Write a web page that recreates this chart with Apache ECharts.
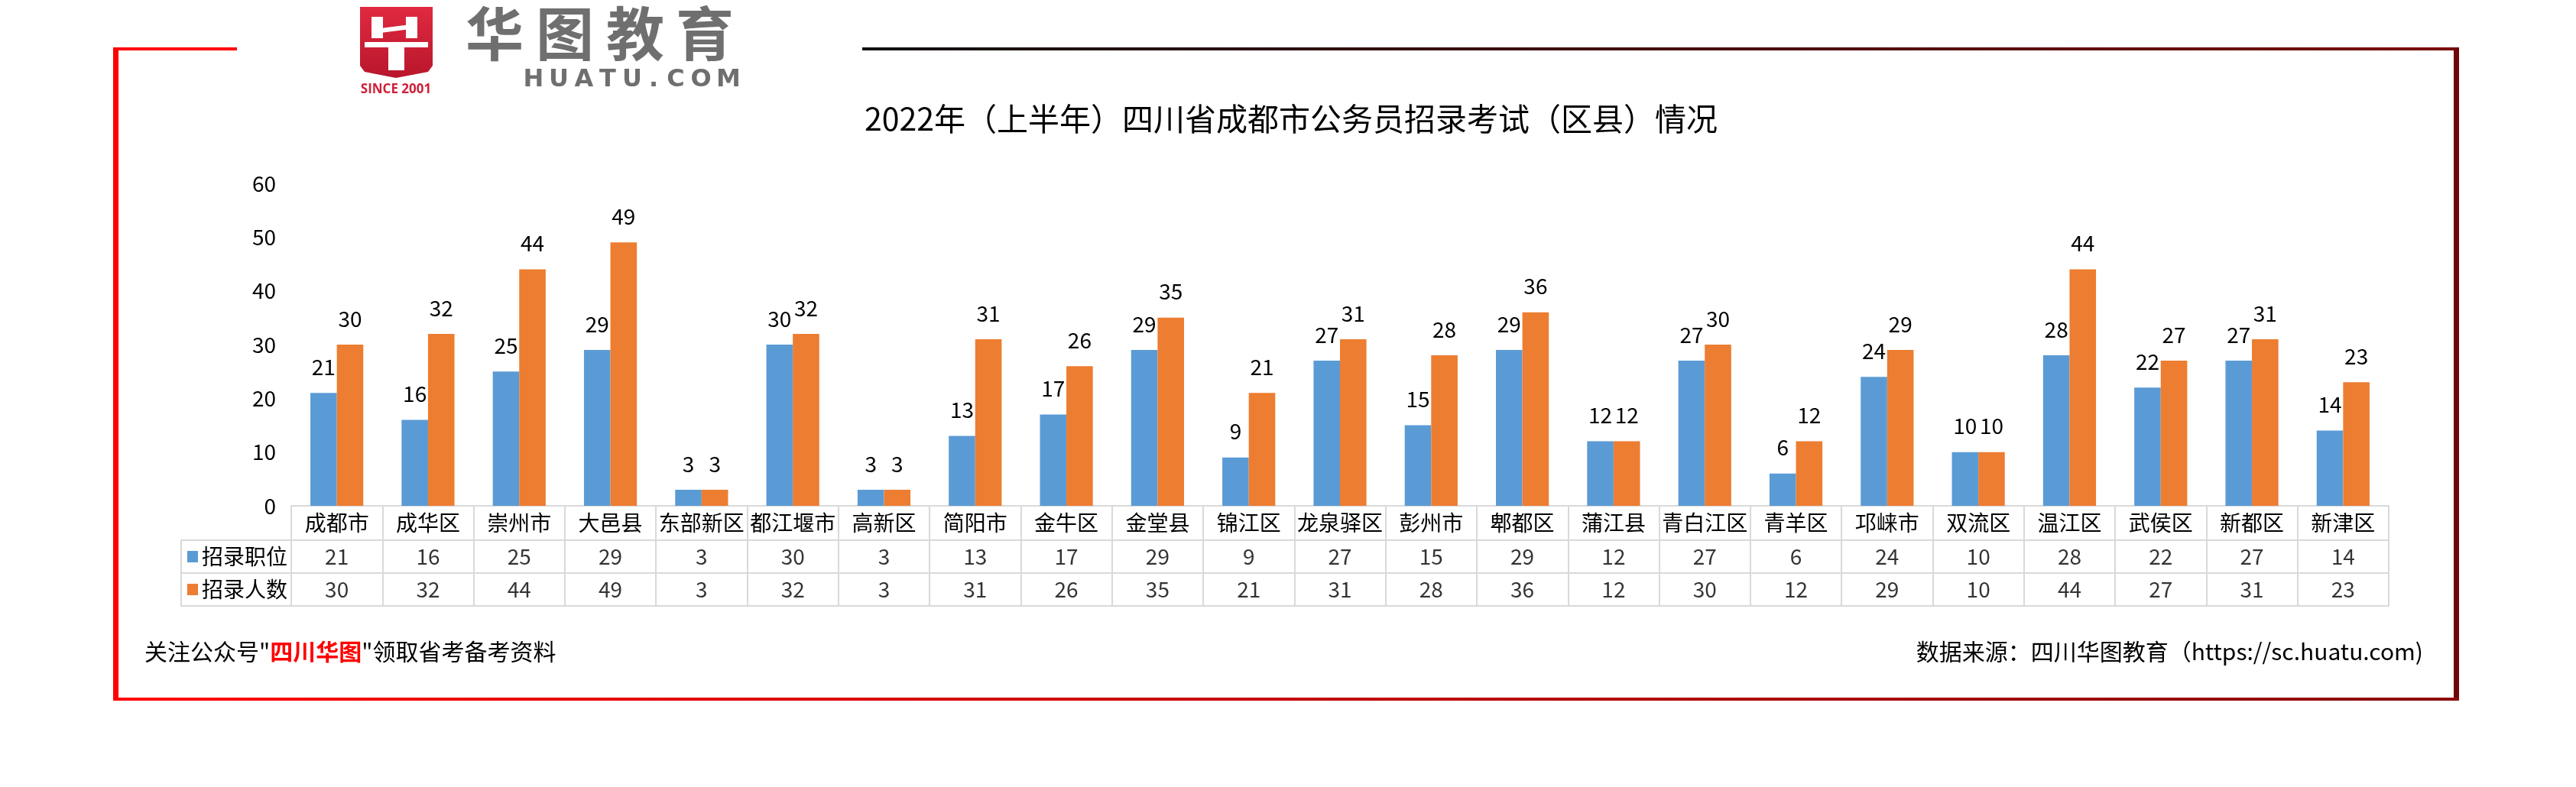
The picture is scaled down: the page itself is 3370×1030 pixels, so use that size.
<!DOCTYPE html>
<html>
<head>
<meta charset="utf-8">
<script src="https://cdn.jsdelivr.net/npm/echarts@6/dist/echarts.min.js"></script>
<style>
html,body{margin:0;padding:0;background:#fff;}
#chart{width:3370px;height:1030px;}
</style>
</head>
<body>
<div id="chart"></div>
<script>
const categories = ['成都市','成华区','崇州市','大邑县','东部新区','都江堰市','高新区','简阳市','金牛区','金堂县','锦江区','龙泉驿区','彭州市','郫都区','蒲江县','青白江区','青羊区','邛崃市','双流区','温江区','武侯区','新都区','新津区'];
const seriesNames = ['招录职位','招录人数'];
const posts  = [21,16,25,29,3,30,3,13,17,29,9,27,15,29,12,27,6,24,10,28,22,27,14];
const people = [30,32,44,49,3,32,3,31,26,35,21,31,28,36,12,30,12,29,10,44,27,31,23];
const yMin = 0, yMax = 60, yStep = 10;
const titleText = '2022年（上半年）四川省成都市公务员招录考试（区县）情况';

const FONT = '"Noto Sans CJK SC", "Noto Sans", sans-serif';
const colors = ['#5B9BD5', '#ED7D31'];
const gridColor = '#d9d9d9';
const seriesValues = [posts, people];

const chart = echarts.init(document.getElementById('chart'), null, {renderer: 'canvas'});

const tableData = [];
seriesValues.forEach((arr, r) => {
  arr.forEach((v, i) => tableData.push([categories[i], seriesNames[r], v]));
});

// logo decoration pieces
const logoChars = [['华', 647], ['图', 739], ['教', 831], ['育', 922]];
const logoLetters = [['H', 698], ['U', 731], ['A', 764], ['T', 795], ['U', 827], ['.', 855], ['C', 884], ['O', 917], ['M', 953]];
const logoGraphics = [];
logoChars.forEach(([c, x]) => logoGraphics.push({type: 'text', x: x, y: 44, silent: true,
  style: {text: c, fill: '#6f6f6f', font: 'bold 76px ' + FONT, align: 'center', verticalAlign: 'middle'}}));
logoLetters.forEach(([c, x]) => logoGraphics.push({type: 'text', x: x, y: 105, silent: true,
  style: {text: c, fill: '#6f6f6f', font: 'bold 32px "DejaVu Sans", sans-serif', align: 'center', verticalAlign: 'middle'}}));

const option = {
  backgroundColor: '#fff',
  animation: false,
  textStyle: {fontFamily: FONT},
  grid: [
    {left: 381, right: 245, top: 240, bottom: 368, containLabel: false},
    {left: 381, right: 245, top: 707, height: 86, containLabel: false}
  ],
  xAxis: [
    {
      type: 'category', gridIndex: 0, data: categories,
      axisLine: {show: true, lineStyle: {color: gridColor, width: 2}},
      axisTick: {show: true, interval: 0, length: 45, inside: false, lineStyle: {color: gridColor, width: 2}},
      axisLabel: {interval: 0, margin: 0, fontSize: 28, lineHeight: 45, color: '#000', fontFamily: FONT},
      splitLine: {show: false}
    },
    {
      type: 'category', gridIndex: 1, data: categories,
      axisLine: {show: true, lineStyle: {color: gridColor, width: 2}},
      axisTick: {show: false},
      axisLabel: {show: false},
      splitLine: {show: true, interval: 0, lineStyle: {color: gridColor, width: 2}}
    }
  ],
  yAxis: [
    {
      type: 'value', gridIndex: 0, min: yMin, max: yMax, interval: yStep,
      axisLine: {show: false}, axisTick: {show: false},
      splitLine: {show: false},
      axisLabel: {fontSize: 28, color: '#000', margin: 20, fontFamily: FONT}
    },
    {
      type: 'category', gridIndex: 1, data: seriesNames, inverse: true,
      axisLine: {show: true, lineStyle: {color: gridColor, width: 2}},
      axisTick: {show: true, length: 144, lineStyle: {color: gridColor, width: 2}},
      splitLine: {show: true, lineStyle: {color: gridColor, width: 2}},
      axisLabel: {
        margin: 5, fontFamily: FONT,
        formatter: (v) => (v === seriesNames[0] ? '{s0|}' : '{s1|}') + '{t|' + v + '}',
        rich: {
          s0: {width: 14, height: 15, backgroundColor: colors[0]},
          s1: {width: 14, height: 15, backgroundColor: colors[1]},
          t: {fontSize: 28, color: '#000', padding: [0, 0, 0, 5], fontFamily: FONT}
        }
      }
    },
    {
      type: 'category', gridIndex: 1, data: seriesNames, inverse: true, position: 'left', offset: 144,
      axisLine: {show: true, lineStyle: {color: gridColor, width: 2}},
      axisTick: {show: false}, axisLabel: {show: false}, splitLine: {show: false}
    }
  ],
  series: [
    {
      name: seriesNames[0], type: 'bar', xAxisIndex: 0, yAxisIndex: 0,
      data: posts, barWidth: '29%', barGap: '0%',
      itemStyle: {color: colors[0]},
      label: {show: true, position: 'top', distance: 20, fontSize: 28, color: '#000', fontFamily: FONT}
    },
    {
      name: seriesNames[1], type: 'bar', xAxisIndex: 0, yAxisIndex: 0,
      data: people, barWidth: '29%', barGap: '0%',
      itemStyle: {color: colors[1]},
      label: {show: true, position: 'top', distance: 20, fontSize: 28, color: '#000', fontFamily: FONT}
    },
    {
      name: 'table', type: 'scatter', xAxisIndex: 1, yAxisIndex: 1,
      data: tableData, symbolSize: 1, itemStyle: {color: 'rgba(0,0,0,0)'},
      silent: true,
      label: {show: true, position: 'inside', formatter: (p) => String(p.value[2]), fontSize: 28, color: '#000', fontFamily: FONT}
    }
  ],
  graphic: [
    // frame
    {type: 'rect', shape: {x: 148, y: 62, width: 7, height: 855}, style: {fill: '#ff0000'}, silent: true},
    {type: 'rect', shape: {x: 148, y: 62, width: 162, height: 4}, style: {fill: '#ff0000'}, silent: true},
    {type: 'rect', shape: {x: 1128, y: 62, width: 2089, height: 4},
      style: {fill: new echarts.graphic.LinearGradient(0, 0, 1, 0, [{offset: 0, color: '#111111'}, {offset: 1, color: '#7a0a0a'}])}, silent: true},
    {type: 'rect', shape: {x: 3210, y: 62, width: 7, height: 855}, style: {fill: '#6e0808'}, silent: true},
    {type: 'rect', shape: {x: 148, y: 913, width: 3069, height: 4},
      style: {fill: new echarts.graphic.LinearGradient(0, 0, 1, 0, [{offset: 0, color: '#ff0000'}, {offset: 1, color: '#8b0a0a'}])}, silent: true},
    // logo shield
    {type: 'polygon', shape: {points: [[471, 9], [566, 9], [566, 86], [560, 94], [518, 102], [477, 94], [471, 86]]},
      style: {fill: new echarts.graphic.LinearGradient(0, 0, 0, 1, [{offset: 0, color: '#e02a40'}, {offset: 1, color: '#b8162c'}])}, silent: true},
    {type: 'rect', shape: {x: 486, y: 22, width: 15, height: 28}, style: {fill: '#fff'}, silent: true},
    {type: 'rect', shape: {x: 531, y: 22, width: 15, height: 28}, style: {fill: '#fff'}, silent: true},
    {type: 'polygon', shape: {points: [[490, 38], [545, 31], [545, 37], [490, 44]]}, style: {fill: '#fff'}, silent: true},
    {type: 'rect', shape: {x: 477, y: 55, width: 83, height: 7}, style: {fill: '#fff'}, silent: true},
    {type: 'rect', shape: {x: 508, y: 62, width: 21, height: 30}, style: {fill: '#fff'}, silent: true},
    {type: 'text', x: 518, y: 117, style: {text: 'SINCE 2001', fill: '#d0203a', font: 'bold 17px "Open Sans", "Noto Sans", sans-serif', align: 'center', verticalAlign: 'middle'}, silent: true},
    ...logoGraphics,
    // title
    {type: 'text', x: 1689, y: 155, style: {text: titleText, fill: '#000', font: '41px ' + FONT, align: 'center', verticalAlign: 'middle'}, silent: true},
    // footers
    {type: 'text', x: 189, y: 853, style: {
      text: '关注公众号"{r|四川华图}"领取省考备考资料', fill: '#000', font: '30px ' + FONT, align: 'left', verticalAlign: 'middle',
      rich: {r: {fill: '#ff0000', fontWeight: 'bold', fontSize: 30, fontFamily: FONT}}
    }, silent: true},
    {type: 'text', x: 3170, y: 853, style: {text: '数据来源：四川华图教育（https://sc.huatu.com)', fill: '#000', font: '30px ' + FONT, align: 'right', verticalAlign: 'middle'}, silent: true}
  ]
};
chart.setOption(option);
</script>
</body>
</html>
